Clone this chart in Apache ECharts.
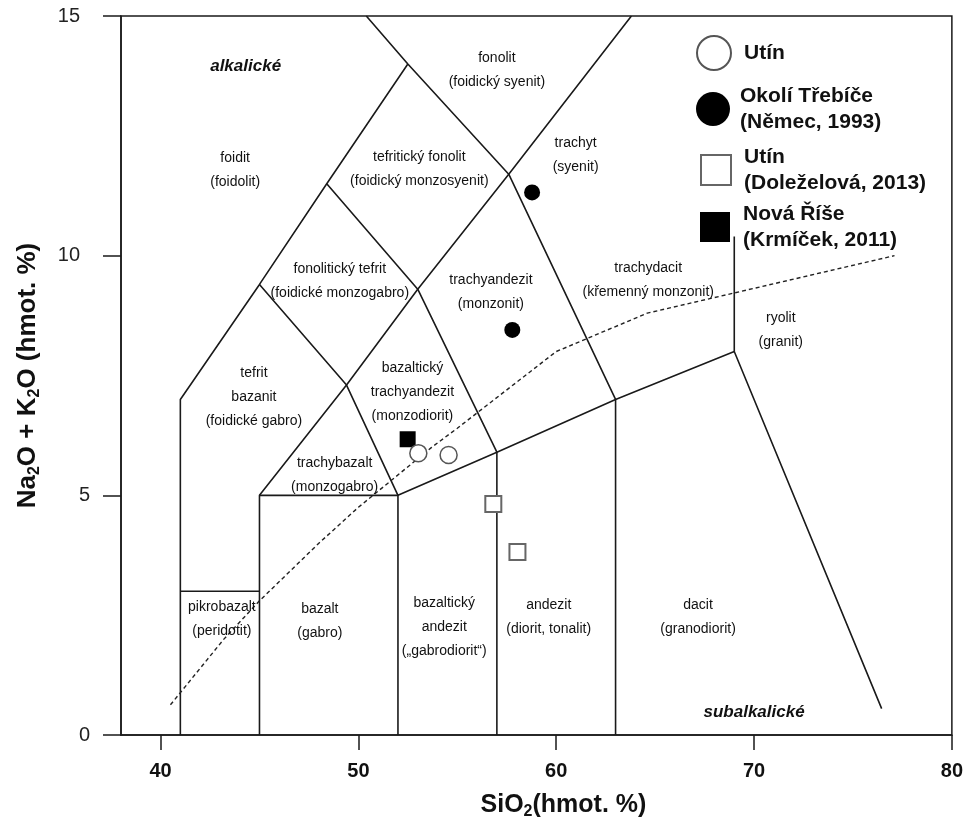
<!DOCTYPE html>
<html><head><meta charset="utf-8">
<script src="https://cdn.jsdelivr.net/npm/echarts@6/dist/echarts.min.js"></script>
<style>html,body{margin:0;padding:0;background:#fff}#c{width:966px;height:830px}</style>
</head><body><div id="c"></div>
<script>
// ---- data (SiO2, Na2O+K2O) ----
const xTicks = [40, 50, 60, 70, 80];
const yTicks = [0, 5, 10, 15];

const boundaryLines = [
  [[41,0],[41,7],[45,9.4],[48.4,11.5],[52.5,14]],
  [[50.4,15],[52.5,14],[57.6,11.7],[63,7],[63,0]],
  [[63.8,15],[57.6,11.7],[53,9.3],[49.4,7.3],[45,5],[45,0]],
  [[45,9.4],[49.4,7.3],[52,5],[52,0]],
  [[48.4,11.5],[53,9.3],[57,5.9],[57,0]],
  [[41,3],[45,3]],
  [[45,5],[52,5],[57,5.9],[63,7],[69,8],[76.45,0.55]],
  [[69,8],[69,10.4]]
];
const alkalineDivide = [[40.5,0.63],[43.2,2.0],[45,2.8],[48,4],[50,4.75],[53.7,6],[55,6.4],[60,8],[64.6,8.8],[77.1,10.0]];

const utin = [[53.03,5.88],[54.56,5.84]];
const trebic = [[58.78,11.32],[57.78,8.45]];
const utinDolezelova = [[56.82,4.82],[58.04,3.82]];
const novaRise = [[52.49,6.17]];

const seriesNames = ['Utín', 'Okolí Třebíče (Němec, 1993)', 'Utín (Doleželová, 2013)', 'Nová Říše (Krmíček, 2011)'];

const fieldLabels = [
  [43.77, 11.79, 'foidit\n(foidolit)'],
  [57.0, 13.87, 'fonolit\n(foidický syenit)'],
  [53.08, 11.81, 'tefritický fonolit\n(foidický monzosyenit)'],
  [60.98, 12.1, 'trachyt\n(syenit)'],
  [49.06, 9.46, 'fonolitický tefrit\n(foidické monzogabro)'],
  [56.7, 9.24, 'trachyandezit\n(monzonit)'],
  [64.65, 9.49, 'trachydacit\n(křemenný monzonit)'],
  [71.35, 8.45, 'ryolit\n(granit)'],
  [44.72, 7.04, 'tefrit\nbazanit\n(foidické gabro)'],
  [52.73, 7.16, 'bazaltický\ntrachyandezit\n(monzodiorit)'],
  [48.8, 5.42, 'trachybazalt\n(monzogabro)'],
  [43.1, 2.41, 'pikrobazalt\n(peridotit)'],
  [48.05, 2.38, 'bazalt\n(gabro)'],
  [54.34, 2.25, 'bazaltický\nandezit\n(„gabrodiorit“)'],
  [59.62, 2.46, 'andezit\n(diorit, tonalit)'],
  [67.17, 2.46, 'dacit\n(granodiorit)']
];
const seriesLabels = [
  [44.3, 13.96, 'alkalické'],
  [70.0, 0.48, 'subalkalické']
];

// ---- chart ----
const INK = '#1a1a1a';
const SANS = "'Liberation Sans', Arial, sans-serif";
const NARROW = "'Liberation Sans Narrow', 'Arial Narrow', 'Liberation Sans', Arial, sans-serif";

const series = [];
boundaryLines.forEach(pl => series.push({
  type: 'line', data: pl, symbol: 'none', silent: true, animation: false, z: 2,
  lineStyle: { color: INK, width: 1.6 }
}));
series.push({
  type: 'line', data: alkalineDivide, symbol: 'none', silent: true, animation: false, z: 3,
  lineStyle: { color: '#222', width: 1.4, type: [4, 3] }
});
series.push({
  type: 'scatter', silent: true, animation: false, z: 6, symbolSize: 1,
  itemStyle: { color: 'rgba(0,0,0,0)', opacity: 1 },
  data: fieldLabels,
  label: { show: true, position: 'inside', formatter: p => p.data[2],
    fontFamily: SANS, fontSize: 14, lineHeight: 24, color: '#111', align: 'center' }
});
series.push({
  type: 'scatter', silent: true, animation: false, z: 6, symbolSize: 1,
  itemStyle: { color: 'rgba(0,0,0,0)', opacity: 1 },
  data: seriesLabels,
  label: { show: true, position: 'inside', formatter: p => p.data[2],
    fontFamily: SANS, fontSize: 17, fontStyle: 'italic', fontWeight: 'bold', color: '#111' }
});
series.push({
  name: seriesNames[3], type: 'scatter', data: novaRise, symbol: 'rect', symbolSize: 16, z: 7,
  itemStyle: { color: '#000', opacity: 1 }, animation: false
});
series.push({
  name: seriesNames[2], type: 'scatter', data: utinDolezelova, symbol: 'rect', symbolSize: 16, z: 7,
  itemStyle: { color: '#fff', borderColor: '#666', borderWidth: 2, opacity: 1 }, animation: false
});
series.push({
  name: seriesNames[1], type: 'scatter', data: trebic, symbol: 'circle', symbolSize: 16, z: 7,
  itemStyle: { color: '#000', opacity: 1 }, animation: false
});
series.push({
  name: seriesNames[0], type: 'scatter', data: utin, symbol: 'circle', symbolSize: 17, z: 8,
  itemStyle: { color: '#fff', borderColor: '#555', borderWidth: 1.5, opacity: 1 }, animation: false
});

function legendAt(name, left, top, s, pad) {
  return {
    data: [name], left: left, top: top, orient: 'vertical', selectedMode: false,
    itemWidth: s, itemHeight: s, padding: 0,
    formatter: n => n.replace(' (', '\n('),
    textStyle: { fontFamily: SANS, fontSize: 21, fontWeight: 'bold', color: '#111', lineHeight: 26, padding: [0, 0, 0, pad] }
  };
}

const option = {
  backgroundColor: '#fff',
  animation: false,
  grid: { left: 121, right: 11, top: 16, bottom: 95, show: true, borderColor: INK, borderWidth: 1.5, backgroundColor: 'transparent' },
  legend: [
    legendAt(seriesNames[0], 696, 35, 34, 8),
    legendAt(seriesNames[1], 696, 83, 34, 5),
    legendAt(seriesNames[2], 700, 144, 30, 8),
    legendAt(seriesNames[3], 700, 201, 30, 8)
  ],
  xAxis: {
    type: 'value', min: 38, max: 80,
    name: '{n|SiO}{s|2}{n|(hmot. %)}', nameLocation: 'middle', nameGap: 55,
    nameTextStyle: { padding: [0, 0, 0, 54],
      rich: { n: { fontFamily: SANS, fontSize: 25, fontWeight: 'bold', color: '#111', lineHeight: 30 },
              s: { fontFamily: SANS, fontSize: 16, fontWeight: 'bold', color: '#111', verticalAlign: 'bottom' } } },
    axisLine: { show: true, onZero: false, lineStyle: { color: INK, width: 1.5 } },
    axisTick: { show: true, customValues: xTicks, length: 15, lineStyle: { color: INK, width: 1.5 } },
    axisLabel: { customValues: xTicks, margin: 26, fontFamily: NARROW, fontSize: 20, fontWeight: 'bold', color: '#111' },
    splitLine: { show: false }
  },
  yAxis: {
    type: 'value', min: 0, max: 15, interval: 5,
    name: '{n|Na}{s|2}{n|O + K}{s|2}{n|O (hmot. %)}', nameLocation: 'middle', nameGap: 78,
    nameTextStyle: {
      rich: { n: { fontFamily: SANS, fontSize: 26, fontWeight: 'bold', color: '#111', lineHeight: 30 },
              s: { fontFamily: SANS, fontSize: 16, fontWeight: 'bold', color: '#111', verticalAlign: 'bottom' } } },
    axisLine: { show: true, onZero: false, lineStyle: { color: INK, width: 1.5 } },
    axisTick: { show: true, length: 18, lineStyle: { color: INK, width: 1.5 } },
    axisLabel: { margin: 31, formatter: v => (v >= 10 ? '{b|' + v + '}' : '{a|' + v + '}'),
      rich: { a: { fontFamily: NARROW, fontSize: 20, color: '#222' },
              b: { fontFamily: NARROW, fontSize: 20, color: '#222', padding: [0, 10, 0, 0] } } },
    splitLine: { show: false }
  },
  series: series
};

const chart = echarts.init(document.getElementById('c'), null, { renderer: 'canvas' });
chart.setOption(option);
</script>
</body></html>
